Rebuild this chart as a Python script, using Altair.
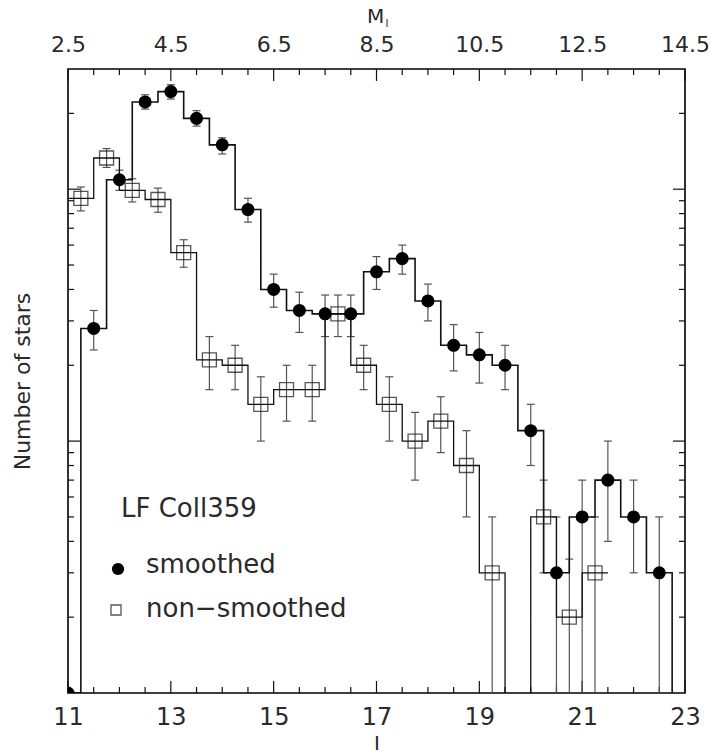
import altair as alt
import numpy as np
import pandas as pd

# ---- luminosity function of Collinder 359 -------------------------------
# smoothed LF: bin centres (I mag), star counts and error-bar limits
sm_I = [11.0, 11.5, 12.0, 12.5, 13.0, 13.5, 14.0, 14.5, 15.0, 15.5, 16.0, 16.5,
        17.0, 17.5, 18.0, 18.5, 19.0, 19.5, 20.0, 20.5, 21.0, 21.5, 22.0, 22.5, 23.0]
sm_N = [1, 28, 109, 222, 244, 191, 150, 83, 40, 33, 32, 32,
        47, 53, 36, 24, 22, 20, 11, 3, 5, 7, 5, 3, 0]
sm_lo = [1, 23, 99, 208, 228, 178, 138, 74, 34, 27, 26, 26,
         40, 46, 30, 19, 17, 16, 8, 0, 0, 4, 3, 0, 0]
sm_hi = [1, 33, 119, 237, 260, 205, 160, 92, 46, 39, 38, 38,
         54, 60, 42, 29, 27, 24, 14, 5, 7, 10, 7, 5, 0]

# non-smoothed LF
ns_I = [11.25, 11.75, 12.25, 12.75, 13.25, 13.75, 14.25, 14.75, 15.25, 15.75,
        16.25, 16.75, 17.25, 17.75, 18.25, 18.75, 19.25, 19.75, 20.25, 20.75, 21.25]
ns_N = [92, 133, 99, 91, 56, 21, 20, 14, 16, 16,
        32, 20, 14, 10, 12, 8, 3, 0, 5, 2, 3]
ns_lo = [82, 122, 89, 81, 49, 16, 16, 10, 12, 12,
         26, 16, 10, 7, 9, 5, 0, 0, 3, 0, 0]
ns_hi = [102, 145, 110, 101, 63, 26, 24, 18, 20, 20,
         38, 24, 18, 13, 15, 11, 5, 0, 7, 3.4, 5]

I_LABELS = [11, 13, 15, 17, 19, 21, 23]
M_LABELS = [2.5, 4.5, 6.5, 8.5, 10.5, 12.5, 14.5]
BIN = 0.5
Y_DOMAIN = [1, 300]
FLOOR = 0.3             # empty bins fall below the axis and are clipped

W, H = 617, 624
FONT = "DejaVu Sans"
INK = "#111111"
TXT = "#2a2a2a"


def step_table(centres, counts):
    rows = []
    k = 0
    for c, n in zip(centres, counts):
        v = n if n > 0 else FLOOR
        rows.append({"x": c - BIN / 2, "y": v, "o": k}); k += 1
        rows.append({"x": c + BIN / 2, "y": v, "o": k}); k += 1
    return pd.DataFrame(rows)


def err_table(centres, counts, lo, hi):
    rows = []
    for c, n, a, b in zip(centres, counts, lo, hi):
        if n <= 0 or a == b:
            continue
        rows.append({"x": c, "lo": a if a > 0 else FLOOR, "hi": b, "has_lo": a > 0})
    return pd.DataFrame(rows)


sm_pts = pd.DataFrame({"x": sm_I, "y": sm_N})
sm_pts = sm_pts[sm_pts.y > 0]
ns_pts = pd.DataFrame({"x": ns_I, "y": ns_N})
ns_pts = ns_pts[ns_pts.y > 0]
sm_steps = step_table(sm_I, sm_N)
ns_steps = step_table(ns_I, ns_N)
errs = pd.concat([err_table(sm_I, sm_N, sm_lo, sm_hi),
                  err_table(ns_I, ns_N, ns_lo, ns_hi)], ignore_index=True)

xscale = alt.Scale(domain=[11, 23], nice=False, zero=False)
yscale = alt.Scale(type="log", domain=Y_DOMAIN, nice=False)

x_axis = alt.Axis(values=I_LABELS, format="d", title="I", orient="bottom",
                  domain=False, ticks=False, tickSize=0, grid=False, labelFlush=False,
                  labelFont=FONT, labelFontSize=24, labelColor=TXT, labelPadding=12,
                  titleFont=FONT, titleFontSize=20, titleFontWeight="normal",
                  titleColor=TXT, titlePadding=4)
y_axis = alt.Axis(labels=False, domain=False, ticks=False, tickSize=0, grid=False,
                  title="Number of stars", titleFont=FONT, titleFontSize=22,
                  titleFontWeight="normal", titleColor=TXT, titlePadding=34)


def X(field):
    return alt.X(field, type="quantitative", scale=xscale, axis=x_axis)


def Y(field):
    return alt.Y(field, type="quantitative", scale=yscale, axis=y_axis)


# error bars and their caps
err_rules = alt.Chart(errs).mark_rule(color="#555555", strokeWidth=1.2, clip=True).encode(
    x=X("x"), y=Y("lo"), y2="hi")
cap_hi = alt.Chart(errs).mark_rule(color="#555555", strokeWidth=1.2,
                                   xOffset=-4, x2Offset=4, clip=True).encode(
    x=X("x"), x2="x", y=Y("hi"))
cap_lo = alt.Chart(errs).transform_filter("datum.has_lo").mark_rule(
    color="#555555", strokeWidth=1.2, xOffset=-4, x2Offset=4, clip=True).encode(
    x=X("x"), x2="x", y=Y("lo"))

# histograms
sm_hist = alt.Chart(sm_steps).mark_line(color=INK, strokeWidth=1.6, clip=True).encode(
    x=X("x"), y=Y("y"), order="o:Q")
ns_hist = alt.Chart(ns_steps).mark_line(color=INK, strokeWidth=1.3, clip=True).encode(
    x=X("x"), y=Y("y"), order="o:Q")

# markers
ns_marks = alt.Chart(ns_pts).mark_point(shape="square", size=196, filled=False,
                                        color=INK, strokeWidth=1.3, clip=True).encode(
    x=X("x"), y=Y("y"))
sm_marks = alt.Chart(sm_pts).mark_point(shape="circle", size=170, filled=True,
                                        color="black", opacity=1, clip=True).encode(
    x=X("x"), y=Y("y"))

# inward ticks on all four sides
minor_x = [v for v in np.arange(11.0, 23.01, 0.5) if v not in I_LABELS]
major_y = [10, 100]
minor_y = [2, 3, 4, 5, 6, 7, 8, 9, 20, 30, 40, 50, 60, 70, 80, 90, 200]
tick_style = dict(color=INK, strokeWidth=1.2)

def xticks(vals, length):
    d = pd.DataFrame({"x": vals})
    bot = alt.Chart(d).mark_rule(**tick_style).encode(
        x=X("x"), y=alt.value(H), y2=alt.value(H - length))
    top = alt.Chart(d).mark_rule(**tick_style).encode(
        x=X("x"), y=alt.value(0), y2=alt.value(length))
    return bot + top

def yticks(vals, length):
    d = pd.DataFrame({"v": vals})
    left = alt.Chart(d).mark_rule(**tick_style).encode(
        y=Y("v"), x=alt.value(0), x2=alt.value(length))
    right = alt.Chart(d).mark_rule(**tick_style).encode(
        y=Y("v"), x=alt.value(W), x2=alt.value(W - length))
    return left + right

ticks = (xticks(I_LABELS, 12) + xticks(minor_x, 6) +
         yticks(major_y, 12) + yticks(minor_y, 6))

# in-panel legend
txt = dict(font=FONT, fontSize=26, color=TXT, align="left", baseline="alphabetic")
legend_text = pd.DataFrame({"t": ["LF Coll359", "smoothed", "non\u2212smoothed"],
                            "px": [53, 78, 78], "py": [448, 504, 548]})
leg_txt = alt.Chart(legend_text).mark_text(**txt).encode(
    text="t:N", x=alt.X("px:Q", scale=None), y=alt.Y("py:Q", scale=None))
leg_dot = alt.Chart(pd.DataFrame({"k": [0]})).mark_point(
    shape="circle", size=150, filled=True, color="black", opacity=1).encode(
    x=alt.value(50), y=alt.value(500))
leg_sq = alt.Chart(pd.DataFrame({"k": [0]})).mark_point(
    shape="square", size=100, filled=False, color=INK, strokeWidth=1.3).encode(
    x=alt.value(48), y=alt.value(541))

main = alt.layer(ticks, err_rules, cap_hi, cap_lo, sm_hist, ns_hist,
                 ns_marks, sm_marks, leg_txt, leg_dot, leg_sq)

# absolute magnitude axis on top
top_axis = alt.Chart(pd.DataFrame({"M": M_LABELS})).mark_point(opacity=0).encode(
    x=alt.X("M:Q", scale=alt.Scale(domain=[M_LABELS[0], M_LABELS[-1]], nice=False, zero=False),
            axis=alt.Axis(orient="top", values=M_LABELS, format=".1f", title=None,
                          domain=False, ticks=False, tickSize=0, grid=False, labelFlush=False,
                          labelFont=FONT, labelFontSize=22, labelColor=TXT, labelPadding=13)))
m_title = alt.Chart(pd.DataFrame({"t": ["M"]})).mark_text(
    font=FONT, fontSize=20, color=TXT, align="center", baseline="alphabetic").encode(
    text="t:N", x=alt.value(W / 2 - 1), y=alt.value(-46))
m_sub = alt.Chart(pd.DataFrame({"t": ["I"]})).mark_text(
    font=FONT, fontSize=10, color=TXT, align="left", baseline="alphabetic").encode(
    text="t:N", x=alt.value(W / 2 + 9), y=alt.value(-42))

chart = alt.layer(main, top_axis + m_title + m_sub).resolve_scale(x="independent").properties(
    width=W, height=H,
    autosize=alt.AutoSizeParams(type="none"),
    padding={"left": 68, "top": 69, "right": 26, "bottom": 61},
    background="white",
).configure_view(stroke="black", strokeWidth=1.6)

chart.save("out.html", embed_options={"renderer": "svg", "actions": False})
